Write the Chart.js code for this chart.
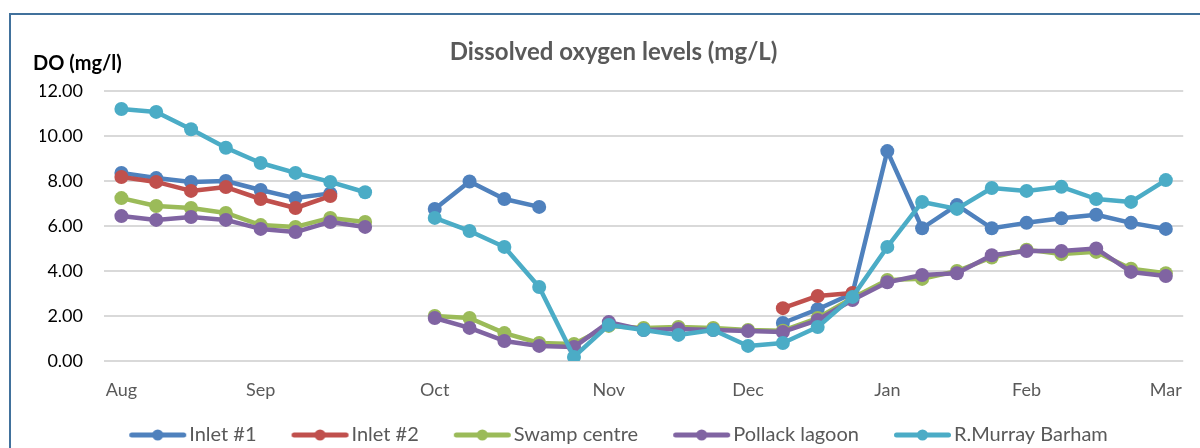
<!DOCTYPE html>
<html>
<head>
<meta charset="utf-8">
<script src="https://cdn.jsdelivr.net/npm/chart.js@4"></script>
<style>
  html, body { margin: 0; padding: 0; background: #fff; }
  #wrap { width: 1200px; height: 448px; position: relative; }
</style>
</head>
<body>
<div id="wrap"><canvas id="myChart" width="1200" height="448"></canvas></div>
<script>
// weekly samples, month names only on the first sample of each month
const labels = ['Aug', '', '', '', 'Sep', '', '', '', '', 'Oct', '', '', '', '', 'Nov', '', '', '', 'Dec', '', '', '', 'Jan', '', '', '', 'Feb', '', '', '', 'Mar'];

const inlet1 = [8.36, 8.13, 7.96, 8.0, 7.6, 7.24, 7.45, null, null,
    6.76, 7.98, 7.2, 6.85, null, null, null, null, null, null,
    1.69, 2.3, 3.0, 9.33, 5.9, 6.93, 5.9, 6.14, 6.34, 6.5, 6.14, 5.87];
const inlet2 = [8.18, 7.96, 7.56, 7.73, 7.2, 6.8, 7.33, null, null,
    null, null, null, null, null, null, null, null, null, null,
    2.35, 2.89, 3.02, null, null, null, null, null, null, null, null, null];
const swamp = [7.24, 6.89, 6.8, 6.58, 6.04, 5.96, 6.36, 6.18, null,
    2.0, 1.91, 1.24, 0.8, 0.76, 1.56, 1.47, 1.51, 1.47, 1.38,
    1.35, 1.91, 2.8, 3.6, 3.65, 4.0, 4.6, 4.95, 4.75, 4.85, 4.1, 3.9];
const pollack = [6.44, 6.27, 6.4, 6.27, 5.87, 5.73, 6.18, 5.96, null,
    1.91, 1.47, 0.89, 0.67, 0.62, 1.73, 1.38, 1.42, 1.38, 1.33,
    1.29, 1.82, 2.71, 3.5, 3.82, 3.9, 4.7, 4.89, 4.89, 5.0, 3.96, 3.78];
const barham = [11.2, 11.07, 10.3, 9.48, 8.8, 8.36, 7.96, 7.5, null,
    6.36, 5.78, 5.07, 3.29, 0.18, 1.6, 1.38, 1.16, 1.38, 0.67,
    0.8, 1.51, 2.85, 5.07, 7.07, 6.76, 7.69, 7.56, 7.74, 7.2, 7.07, 8.04];

const names = ['Inlet #1', 'Inlet #2', 'Swamp centre', 'Pollack lagoon', 'R.Murray Barham'];
const colors = ['#4F81BD', '#C0504D', '#9BBB59', '#8064A2', '#4BACC6'];
const series = [inlet1, inlet2, swamp, pollack, barham];

// legend marker: line with a dot, like the Excel legend (blank strip on the left for spacing)
function legendIcon(color) {
    const c = document.createElement('canvas');
    c.width = 76;
    c.height = 16;
    const g = c.getContext('2d');
    g.strokeStyle = color;
    g.lineWidth = 5;
    g.lineCap = 'round';
    g.beginPath();
    g.moveTo(20.5, 8);
    g.lineTo(72.5, 8);
    g.stroke();
    g.fillStyle = color;
    g.beginPath();
    g.arc(46.5, 8, 5.5, 0, Math.PI * 2);
    g.fill();
    return c;
}
const icons = colors.map(legendIcon);

const frame = {
    id: 'frame',
    beforeDraw(chart) {
        const ctx = chart.ctx;
        ctx.save();
        ctx.strokeStyle = '#41719C';
        ctx.lineWidth = 2;
        ctx.beginPath();
        ctx.moveTo(10, 448);
        ctx.lineTo(10, 14);
        ctx.lineTo(1200, 14);
        ctx.stroke();
        ctx.restore();
    },
    afterDraw(chart) {
        const ctx = chart.ctx;
        ctx.save();
        ctx.fillStyle = '#000';
        ctx.font = 'bold 20px Lato';
        ctx.textBaseline = 'middle';
        ctx.fillText('DO (mg/l)', 33, 64);
        ctx.restore();
    }
};

const ctx = document.getElementById('myChart').getContext('2d');

new Chart(ctx, {
    type: 'line',
    data: {
        labels: labels,
        datasets: series.map((d, i) => ({
            label: names[i],
            data: d,
            order: 4 - i,
            borderColor: colors[i],
            backgroundColor: colors[i],
            pointBackgroundColor: colors[i],
            pointBorderWidth: 0,
            pointRadius: 7,
            borderWidth: 4.5,
            borderJoinStyle: 'round',
            borderCapStyle: 'round',
            tension: 0,
            spanGaps: false
        }))
    },
    options: {
        responsive: false,
        animation: false,
        layout: { padding: { left: 40, right: 13, top: 0, bottom: 0 } },
        plugins: {
            title: {
                display: true,
                text: 'Dissolved oxygen levels (mg/L)',
                color: '#595959',
                font: { family: 'Lato', size: 24, weight: 'bold' },
                padding: { top: 37.6, bottom: 24.6 }
            },
            legend: {
                position: 'bottom',
                maxHeight: 48,
                labels: {
                    usePointStyle: true,
                    pointStyleWidth: 60,
                    padding: 25,
                    color: '#595959',
                    font: { family: 'Lato', size: 20 },
                    sort: (a, b) => a.datasetIndex - b.datasetIndex,
                    generateLabels(chart) {
                        const items = Chart.defaults.plugins.legend.labels.generateLabels(chart);
                        items.forEach(it => { it.pointStyle = icons[it.datasetIndex]; });
                        return items;
                    }
                }
            },
            tooltip: { enabled: false }
        },
        scales: {
            x: {
                offset: true,
                grid: { display: false, drawTicks: false },
                border: { display: false },
                ticks: {
                    autoSkip: false,
                    maxRotation: 0,
                    padding: 18,
                    color: '#595959',
                    font: { family: 'Lato', size: 18 }
                },
                afterFit(scale) { scale.height = 39; }
            },
            y: {
                min: 0,
                max: 12,
                grid: { color: '#D9D9D9', lineWidth: 2, drawTicks: false },
                border: { display: false },
                ticks: {
                    stepSize: 2,
                    padding: 21,
                    color: '#000',
                    font: { family: 'Lato', size: 18 },
                    callback: v => v.toFixed(2)
                },
                afterFit(scale) { scale.width = 64; }
            }
        }
    },
    plugins: [frame]
});
</script>
</body>
</html>
